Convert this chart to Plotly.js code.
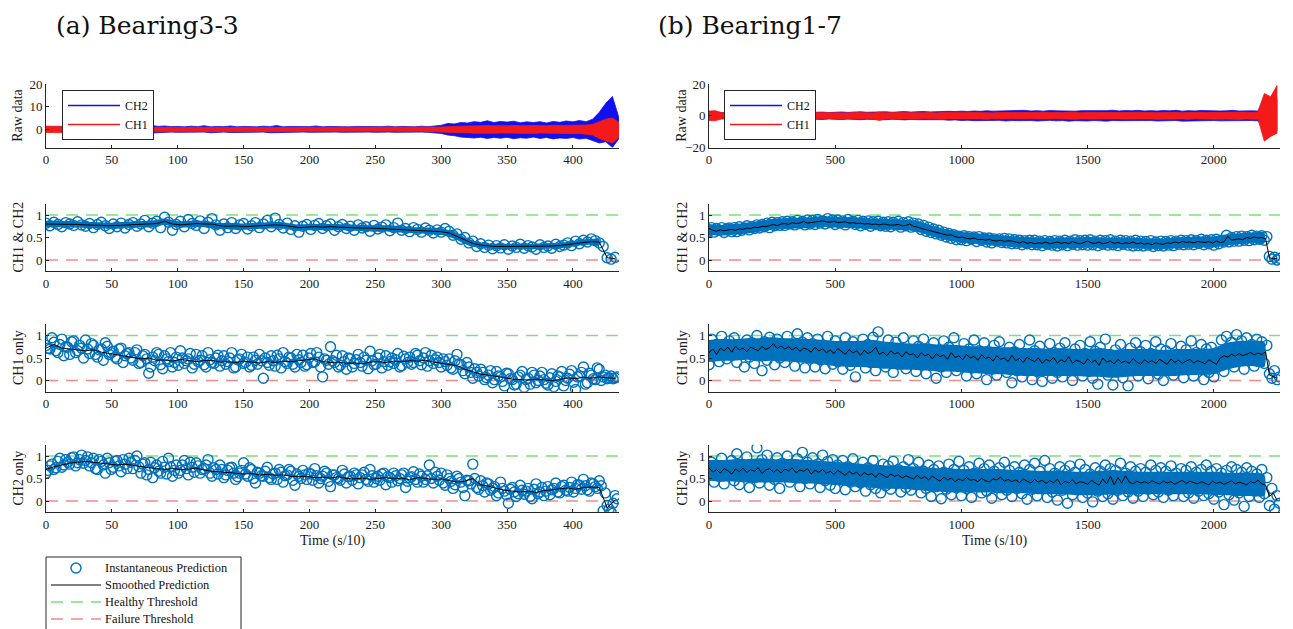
<!DOCTYPE html>
<html>
<head>
<meta charset="utf-8">
<script src="https://cdn.plot.ly/plotly-3.0.1.min.js"></script>
<style>
  html, body { margin: 0; padding: 0; background: #ffffff; overflow: hidden; }
  #chart { width: 1293px; height: 629px; }
</style>
</head>
<body>
<div id="chart"></div>
<script>
// ---------------- Bearing3-3 (time in s/10) ----------------
// sampling steps of each stored series
const b33RawStep = 5, b33InstStep = 3, b33SmoothStep = 6, b33CoreStep = 10;

// raw vibration envelopes
const b33Ch2Upper = [1.0,1.1,0.9,1.0,1.2,0.9,1.1,1.0,0.9,1.1, 1.0,1.2,0.9,1.1,1.0,1.2,1.8,1.3,1.5,1.2,
  1.3,1.1,1.4,1.2,1.6,1.1,1.3,1.2,1.5,1.1, 1.3,1.2,1.1,1.4,1.2,1.7,1.1,1.3,1.2,1.4,
  1.2,1.5,1.1,1.3,1.2,1.4,1.1,1.3,1.2,1.1, 1.3,1.2,1.4,1.1,1.3,1.2,1.1,1.4,1.2,1.5,
  1.8,2.6,2.4,3.0,2.8,3.4,3.1,3.8,3.0,3.5, 3.2,3.6,2.9,3.3,3.0,3.4,2.8,3.5,3.1,3.7,
  3.3,3.9,3.4,4.5,7.5,11.5,14.5,5.0];
const b33Ch2Lower = [-1.0,-1.1,-0.9,-1.1,-1.0,-1.2,-1.0,-0.9,-1.1,-1.0, -1.1,-1.0,-1.2,-1.1,-1.3,-1.2,-1.6,-1.4,-1.3,-1.2,
  -1.3,-1.2,-1.4,-1.3,-1.2,-1.5,-1.3,-1.2,-1.4,-1.3, -1.2,-1.4,-1.3,-1.2,-1.5,-1.3,-1.2,-1.4,-1.3,-1.2,
  -1.3,-1.2,-1.4,-1.3,-1.2,-1.3,-1.4,-1.2,-1.3,-1.2, -1.3,-1.4,-1.2,-1.3,-1.2,-1.4,-1.3,-1.2,-1.3,-1.4,
  -1.8,-2.5,-2.8,-3.4,-3.6,-3.8,-3.5,-4.0,-3.6,-3.9, -3.5,-4.1,-3.7,-3.9,-3.4,-4.0,-3.6,-4.2,-3.8,-4.0,
  -3.6,-4.3,-3.9,-4.8,-6.0,-5.5,-8.0,-4.0];
const b33Ch1Upper = [1.4,1.3,1.5,1.4,1.3,1.5,1.4,1.3,1.4,1.5, 1.3,1.4,1.5,1.3,1.4,1.3,0.9,0.8,0.9,0.8,
  0.9,0.8,0.8,0.9,0.8,0.8,0.9,0.8,0.8,0.9, 0.8,0.9,0.8,0.8,0.9,0.8,0.8,0.9,0.8,0.8,
  0.9,0.8,0.8,0.9,0.8,0.8,0.9,0.8,0.8,0.9, 0.8,0.8,0.9,0.8,0.8,0.9,0.8,0.9,0.8,0.9,
  1.0,1.2,1.3,1.5,1.4,1.6,1.5,1.7,1.6,1.5, 1.6,1.7,1.5,1.6,1.7,1.5,1.6,1.8,1.6,1.7,
  1.8,1.7,1.9,2.2,3.5,4.5,5.0,3.0];
const b33Ch1Lower = [-1.4,-1.5,-1.3,-1.4,-1.5,-1.3,-1.4,-1.5,-1.3,-1.4, -1.5,-1.3,-1.4,-1.5,-1.3,-1.4,-1.0,-0.9,-0.8,-0.9,
  -0.8,-0.9,-0.8,-0.9,-0.8,-0.9,-0.8,-0.8,-0.9,-0.8, -0.9,-0.8,-0.8,-0.9,-0.8,-0.9,-0.8,-0.9,-0.8,-0.8,
  -0.8,-0.9,-0.8,-0.8,-0.9,-0.8,-0.9,-0.8,-0.8,-0.9, -0.8,-0.9,-0.8,-0.8,-0.9,-0.8,-0.9,-0.8,-0.9,-0.8,
  -1.1,-1.3,-1.4,-1.6,-1.5,-1.7,-1.6,-1.8,-1.7,-1.6, -1.7,-1.8,-1.6,-1.7,-1.8,-1.6,-1.7,-1.9,-1.7,-1.8,
  -1.9,-1.8,-2.0,-2.5,-4.0,-5.0,-6.0,-3.5];

// health index predictions, CH1 & CH2
const b33BothInst = [0.82,0.76,0.84,0.79,0.74,0.83,0.80,0.77,0.85,0.78,0.75,
  0.81,0.72,0.79,0.84,0.76,0.70,0.80,0.74,0.82,0.71,0.79,
  0.83,0.75,0.80,0.88,0.74,0.82,0.86,0.72,0.95,0.84,0.66,
  0.79,0.86,0.74,0.90,0.81,0.77,0.87,0.70,0.84,0.92,0.78,
  0.66,0.80,0.72,0.83,0.70,0.78,0.81,0.69,0.76,0.83,0.72,
  0.80,0.88,0.74,0.93,0.79,0.71,0.82,0.68,0.76,0.62,0.75,
  0.79,0.68,0.77,0.81,0.70,0.76,0.80,0.66,0.74,0.79,0.70,
  0.75,0.66,0.78,0.71,0.74,0.64,0.77,0.69,0.73,0.78,0.65,
  0.72,0.82,0.66,0.70,0.63,0.72,0.68,0.62,0.71,0.66,0.60,
  0.67,0.62,0.70,0.64,0.55,0.58,0.46,0.50,0.38,0.42,0.30,
  0.36,0.28,0.33,0.25,0.32,0.27,0.34,0.24,0.31,0.28,0.35,
  0.26,0.32,0.29,0.24,0.34,0.28,0.31,0.26,0.35,0.30,0.33,
  0.38,0.32,0.42,0.36,0.44,0.40,0.47,0.43,0.38,0.30,0.05,
  0.02,0.06];
const b33BothSmooth = [0.80,0.80,0.80,0.79,0.79,0.78,0.78,0.77,0.76,0.77,0.78,0.78,0.79,0.80,0.81,0.86,0.80,0.78,0.80,0.81,
  0.80,0.80,0.76,0.75,0.76,0.74,0.75,0.76,0.77,0.78,0.77,0.74,0.72,0.73,0.74,0.73,0.74,0.73,0.72,0.72,
  0.71,0.71,0.70,0.70,0.69,0.68,0.67,0.66,0.65,0.64,0.63,0.60,0.52,0.44,0.37,0.33,0.31,0.30,0.30,0.30,
  0.30,0.30,0.30,0.31,0.31,0.32,0.34,0.37,0.39,0.41,0.40,0.05,0.03];
// where the prediction circles overlap into a solid cloud
const b33BothCoreUpper = [0.87,0.87,0.86,0.85,0.84,0.83,0.85,0.86,0.87,0.92,0.86,0.87,0.87,0.83,0.82,0.81,0.83,0.84,0.84,0.79,
  0.80,0.80,0.80,0.79,0.78,0.77,0.77,0.75,0.73,0.72,0.70,0.63,0.48,0.39,0.36,0.36,0.36,0.36,0.37,0.38,0.42,0.46,0.46];
const b33BothCoreLower = [0.73,0.73,0.72,0.71,0.70,0.69,0.71,0.72,0.73,0.78,0.72,0.73,0.73,0.69,0.68,0.67,0.69,0.70,0.70,0.65,
  0.66,0.66,0.66,0.65,0.64,0.63,0.63,0.61,0.59,0.58,0.56,0.47,0.33,0.27,0.24,0.24,0.24,0.24,0.25,0.26,0.30,0.34,0.34];

// CH1 only (two interleaved sample sets, the second offset by half a step)
const b33Ch1Inst = [0.78,0.70,0.85,0.62,0.92,0.75,0.58,0.88,0.66,0.72,0.90,
  0.60,0.78,0.52,0.70,0.84,0.58,0.65,0.48,0.72,0.55,0.62,
  0.45,0.68,0.40,0.58,0.16,0.52,0.62,0.35,0.55,0.42,0.30,
  0.52,0.66,0.38,0.48,0.28,0.58,0.45,0.35,0.62,0.40,0.50,
  0.32,0.55,0.42,0.62,0.30,0.48,0.38,0.52,0.34,0.45,0.58,
  0.05,0.40,0.55,0.32,0.48,0.62,0.38,0.50,0.30,0.46,0.56,
  0.35,0.60,0.42,0.52,0.08,0.45,0.75,0.40,0.30,0.55,0.25,
  0.48,0.38,0.58,0.32,0.45,0.65,0.35,0.50,0.28,0.55,0.42,
  0.38,0.60,0.33,0.48,0.52,0.40,0.56,0.35,0.62,0.44,0.38,
  0.52,0.30,0.42,0.48,0.25,0.58,0.35,0.15,0.30,0.05,0.18,
  0.25,0.02,0.12,-0.05,0.20,0.08,-0.12,0.15,0.02,-0.08,0.12,
  -0.15,0.05,0.18,-0.05,0.10,0.02,-0.10,0.15,-0.02,0.08,-0.12,
  0.05,0.22,-0.20,0.10,0.30,-0.05,0.12,0.02,0.25,0.08,0.04,
  0.10,0.06];
const b33Ch1InstMid = [0.72,0.95,0.66,0.80,0.55,0.74,0.86,0.62,0.78,0.50,0.70,
  0.82,0.58,0.68,0.45,0.76,0.62,0.52,0.70,0.40,0.60,0.50,
  0.62,0.38,0.55,0.48,0.30,0.44,0.58,0.26,0.48,0.62,0.40,
  0.34,0.50,0.44,0.60,0.36,0.42,0.55,0.30,0.46,0.38,0.56,
  0.44,0.36,0.50,0.28,0.46,0.58,0.40,0.30,0.52,0.36,0.44,
  0.50,0.34,0.44,0.56,0.28,0.42,0.52,0.36,0.58,0.40,0.32,
  0.50,0.40,0.62,0.30,0.48,0.36,0.44,0.56,0.34,0.42,0.50,
  0.30,0.46,0.40,0.52,0.26,0.44,0.36,0.58,0.42,0.34,0.50,
  0.46,0.30,0.54,0.40,0.36,0.60,0.44,0.50,0.32,0.56,0.46,
  0.40,0.48,0.34,0.28,0.44,0.36,0.22,0.40,0.18,0.26,0.10,
  0.18,0.06,0.22,0.02,0.10,-0.02,0.16,0.04,-0.10,0.08,0.20,
  0.02,-0.08,0.12,0.00,0.18,-0.06,0.06,-0.14,0.10,0.20,0.00,
  0.14,-0.04,0.08,0.18,-0.08,0.16,0.04,0.28,0.00,0.12,0.06,
  0.04,0.08];
const b33Ch1Smooth = [0.72,0.80,0.72,0.70,0.69,0.66,0.68,0.63,0.60,0.57,0.55,0.52,0.48,0.50,0.45,0.46,0.43,0.47,0.44,0.42,
  0.44,0.45,0.41,0.42,0.40,0.43,0.41,0.39,0.42,0.40,0.43,0.42,0.44,0.46,0.48,0.42,0.40,0.41,0.38,0.39,
  0.37,0.41,0.42,0.40,0.43,0.42,0.44,0.43,0.45,0.41,0.38,0.36,0.33,0.25,0.20,0.14,0.12,0.09,0.06,0.03,
  0.02,0.01,0.03,0.02,0.00,0.02,0.06,0.04,0.07,0.05,0.08,0.06,0.05];

// CH2 only
const b33Ch2Inst = [0.62,0.78,0.70,0.88,0.75,0.92,0.82,0.98,0.85,1.02,0.90,
  0.78,0.95,0.70,0.88,0.62,0.85,0.75,0.90,0.65,0.82,0.95,
  0.72,1.00,0.62,0.85,0.70,0.52,0.80,0.62,0.75,0.95,0.55,
  0.80,0.68,0.90,0.58,0.75,0.85,0.62,0.72,0.92,0.55,0.70,
  0.80,0.52,0.68,0.75,0.48,0.62,0.85,0.55,0.70,0.40,0.62,
  0.55,0.75,0.48,0.62,0.70,0.42,0.58,0.66,0.35,0.55,0.68,
  0.48,0.60,0.72,0.40,0.55,0.62,0.32,0.58,0.50,0.68,0.40,
  0.55,0.62,0.38,0.58,0.48,0.70,0.42,0.55,0.60,0.36,0.52,
  0.62,0.45,0.58,0.30,0.52,0.65,0.42,0.55,0.48,0.80,0.40,
  0.55,0.62,0.35,0.50,0.28,0.55,0.42,0.12,0.45,0.82,0.30,
  0.45,0.20,0.38,0.28,0.12,0.42,0.22,-0.05,0.30,0.10,0.35,
  0.15,0.28,0.05,0.38,0.20,0.12,0.32,0.25,0.40,0.18,0.35,
  0.22,0.42,0.28,0.35,0.48,0.25,0.40,0.32,0.45,-0.22,-0.10,
  -0.25,0.12];
const b33Ch2InstMid = [0.68,0.82,0.74,0.95,0.80,0.86,0.96,0.78,0.92,0.84,0.98,
  0.85,0.72,0.92,0.80,0.95,0.70,0.88,0.78,0.92,0.72,0.86,
  0.90,0.76,0.82,0.58,0.86,0.74,0.66,0.88,0.60,0.76,0.68,
  0.62,0.80,0.72,0.86,0.64,0.78,0.70,0.80,0.62,0.74,0.60,
  0.70,0.58,0.74,0.62,0.54,0.68,0.60,0.74,0.50,0.64,0.56,
  0.66,0.52,0.60,0.48,0.64,0.56,0.70,0.46,0.60,0.50,0.58,
  0.62,0.46,0.56,0.50,0.66,0.44,0.58,0.52,0.46,0.60,0.54,
  0.46,0.58,0.52,0.64,0.44,0.56,0.50,0.46,0.62,0.54,0.42,
  0.56,0.50,0.62,0.44,0.54,0.48,0.60,0.42,0.56,0.50,0.64,
  0.46,0.40,0.58,0.44,0.36,0.50,0.30,0.46,0.38,0.50,0.26,
  0.34,0.40,0.24,0.32,0.18,0.28,0.14,0.26,0.20,0.16,0.24,
  0.22,0.10,0.26,0.16,0.30,0.22,0.14,0.28,0.20,0.32,0.24,
  0.30,0.20,0.36,0.26,0.34,0.22,0.38,0.28,0.34,0.18,-0.18,
  -0.05,0.05];
const b33Ch2Smooth = [0.70,0.76,0.80,0.84,0.86,0.88,0.86,0.84,0.82,0.80,0.82,0.79,0.77,0.74,0.72,0.70,0.72,0.70,0.71,0.73,
  0.69,0.66,0.65,0.63,0.62,0.60,0.61,0.58,0.59,0.57,0.58,0.55,0.54,0.55,0.52,0.53,0.51,0.54,0.50,0.49,
  0.51,0.48,0.50,0.52,0.49,0.51,0.47,0.52,0.50,0.48,0.49,0.45,0.42,0.44,0.50,0.36,0.33,0.28,0.24,0.22,
  0.20,0.22,0.19,0.23,0.25,0.27,0.29,0.26,0.30,0.31,0.30,-0.15,0.02];

// ---------------- Bearing1-7 (time in s/10) ----------------
const b17RawStep = 25, b17InstStep = 10, b17SmoothStep = 15, b17CoreStep = 50;

const b17Ch2Upper = [1.5,1.8,2.0,1.9,2.1,1.8,2.0,2.2,1.9,2.1, 2.0,2.2,1.9,2.1,2.3,2.0,2.2,2.1,2.3,2.0,
  2.2,2.4,2.1,2.3,2.5,2.2,2.4,2.3,2.5,2.2, 2.4,2.6,2.3,2.5,2.7,2.4,2.6,2.5,2.8,2.6,
  2.9,2.7,3.0,2.8,3.1,2.9,3.0,2.8,3.2,2.9, 3.4,3.0,3.2,2.9,3.3,3.1,3.0,3.3,2.9,3.2,
  3.1,3.4,3.0,3.2,3.5,3.0,3.3,3.1,3.4,3.0, 3.2,3.0,3.3,3.1,3.4,2.9,3.2,3.0,3.3,3.1,
  3.2,3.0,3.1,3.4,3.0,3.2,3.1,3.0,12.5,11.0, 10.5];
const b17Ch2Lower = [-1.5,-1.8,-2.0,-1.9,-2.1,-1.8,-2.0,-2.2,-1.9,-2.1, -2.0,-2.2,-1.9,-2.1,-2.3,-2.0,-2.2,-2.1,-2.3,-2.0,
  -2.2,-2.4,-2.1,-2.3,-2.5,-2.2,-2.4,-2.3,-2.5,-2.2, -2.4,-2.6,-2.3,-2.5,-2.7,-2.4,-2.6,-2.5,-2.8,-2.6,
  -3.0,-2.8,-3.1,-2.9,-3.2,-3.0,-2.9,-3.3,-3.0,-3.1, -3.2,-3.0,-3.3,-3.1,-2.9,-3.2,-3.0,-3.4,-3.1,-3.0,
  -3.3,-3.0,-3.2,-3.4,-3.0,-3.1,-3.3,-3.0,-3.2,-3.1, -3.0,-3.3,-3.1,-3.2,-3.0,-3.4,-3.1,-3.0,-3.2,-3.1,
  -3.0,-3.2,-3.1,-3.0,-3.3,-3.1,-3.0,-3.2,-9.0,-10.0, -9.5];
const b17Ch1Upper = [3.0,3.2,2.0,1.9,2.0,1.8,2.1,1.9,2.0,1.8, 2.0,1.9,2.1,1.8,2.0,1.9,2.1,2.0,1.9,2.0,
  1.9,2.0,1.8,2.1,1.9,2.0,1.8,2.3,1.9,2.0, 1.9,2.0,1.8,2.0,1.9,2.1,1.8,2.0,1.9,2.0,
  1.9,2.0,2.1,1.9,2.0,1.8,2.1,1.9,2.0,2.1, 1.9,2.0,2.2,1.9,2.0,2.1,1.9,2.2,2.0,1.9,
  2.1,2.0,1.9,2.2,2.0,2.1,1.9,2.0,2.2,2.0, 2.1,1.9,2.0,2.2,2.0,1.9,2.1,2.0,2.2,2.0,
  2.1,2.0,2.2,2.0,2.1,2.3,2.1,2.4,14.0,12.0, 19.0];
const b17Ch1Lower = [-3.0,-3.1,-2.0,-1.9,-2.1,-1.8,-2.0,-1.9,-2.1,-1.8, -2.0,-1.9,-2.1,-2.0,-1.9,-2.0,-2.1,-1.9,-2.0,-1.8,
  -2.0,-1.9,-2.1,-1.8,-2.0,-1.9,-2.1,-3.0,-2.0,-1.9, -2.0,-1.9,-2.1,-2.0,-1.8,-2.0,-1.9,-2.1,-2.0,-1.9,
  -2.0,-2.1,-1.9,-2.0,-2.2,-1.9,-2.0,-2.1,-1.9,-2.0, -2.1,-1.9,-2.0,-2.2,-2.0,-1.9,-2.1,-2.0,-2.2,-2.0,
  -1.9,-2.1,-2.0,-2.2,-1.9,-2.0,-2.1,-2.0,-1.9,-2.1, -2.0,-2.2,-1.9,-2.0,-2.1,-2.0,-2.2,-1.9,-2.0,-2.1,
  -2.0,-2.2,-2.1,-2.0,-2.3,-2.1,-2.0,-2.2,-16.0,-13.0, -11.0];

const b17BothInst = [0.64,0.72,0.62,0.70,0.66,0.72,0.61,0.69,0.71,0.63,
  0.72,0.63,0.74,0.66,0.71,0.76,0.67,0.74,0.70,0.78,
  0.71,0.79,0.74,0.82,0.72,0.84,0.76,0.83,0.77,0.85,
  0.77,0.86,0.80,0.85,0.78,0.88,0.81,0.86,0.78,0.89,
  0.80,0.88,0.79,0.90,0.82,0.87,0.80,0.92,0.83,0.89,
  0.79,0.89,0.82,0.87,0.78,0.90,0.83,0.86,0.79,0.88,
  0.76,0.86,0.79,0.87,0.75,0.85,0.79,0.86,0.76,0.84,
  0.75,0.85,0.74,0.84,0.78,0.86,0.73,0.83,0.76,0.85,
  0.73,0.82,0.75,0.80,0.68,0.77,0.64,0.73,0.61,0.69,
  0.58,0.66,0.55,0.62,0.51,0.59,0.48,0.56,0.45,0.53,
  0.45,0.54,0.43,0.52,0.46,0.51,0.41,0.52,0.44,0.49,
  0.40,0.49,0.38,0.47,0.42,0.47,0.39,0.48,0.38,0.47,
  0.36,0.45,0.37,0.44,0.34,0.43,0.36,0.44,0.34,0.44,
  0.34,0.42,0.32,0.43,0.35,0.41,0.33,0.43,0.31,0.42,
  0.34,0.44,0.32,0.42,0.35,0.45,0.33,0.43,0.34,0.44,
  0.33,0.45,0.34,0.42,0.32,0.44,0.35,0.43,0.33,0.45,
  0.34,0.42,0.32,0.44,0.35,0.43,0.33,0.42,0.31,0.44,
  0.32,0.42,0.31,0.41,0.33,0.43,0.30,0.40,0.32,0.42,
  0.31,0.41,0.33,0.43,0.32,0.42,0.35,0.44,0.34,0.43,
  0.35,0.45,0.34,0.43,0.37,0.46,0.34,0.44,0.36,0.45,
  0.33,0.46,0.36,0.44,0.40,0.55,0.40,0.50,0.42,0.52,
  0.42,0.53,0.44,0.52,0.43,0.55,0.45,0.53,0.46,0.54,
  0.44,0.52,0.08,0.02,0.06,0.00,0.04];
const b17BothSmooth = [0.70,0.66,0.64,0.67,0.65,0.66,0.68,0.66,0.69,0.68,
  0.71,0.70,0.73,0.72,0.75,0.74,0.77,0.79,0.76,0.80,
  0.81,0.79,0.83,0.81,0.82,0.86,0.82,0.83,0.84,0.85,
  0.87,0.85,0.84,0.86,0.83,0.84,0.85,0.82,0.83,0.81,
  0.82,0.80,0.81,0.79,0.80,0.78,0.80,0.79,0.77,0.78,
  0.79,0.76,0.77,0.80,0.75,0.73,0.70,0.68,0.66,0.64,
  0.62,0.60,0.57,0.55,0.56,0.52,0.50,0.51,0.48,0.47,
  0.49,0.45,0.46,0.44,0.46,0.43,0.42,0.44,0.41,0.43,
  0.42,0.40,0.38,0.41,0.37,0.39,0.36,0.38,0.37,0.40,
  0.36,0.38,0.40,0.37,0.39,0.36,0.41,0.38,0.36,0.39,
  0.42,0.38,0.37,0.40,0.36,0.38,0.41,0.37,0.39,0.36,
  0.38,0.37,0.40,0.36,0.38,0.35,0.37,0.34,0.38,0.36,
  0.35,0.38,0.37,0.40,0.38,0.41,0.39,0.40,0.38,0.41,
  0.40,0.39,0.41,0.38,0.42,0.39,0.40,0.53,0.44,0.46,
  0.47,0.45,0.50,0.48,0.51,0.49,0.50,0.47,0.05,0.03,
  0.03];
const b17BothCoreUpper = [0.80,0.78,0.80,0.83,0.87,0.91,0.93,0.94,0.95,0.98,0.96,0.95,0.94,0.92,0.91,0.90,0.89,0.83,0.74,0.67,
  0.62,0.60,0.57,0.55,0.53,0.51,0.50,0.49,0.50,0.50,0.51,0.50,0.50,0.50,0.49,0.48,0.48,0.50,0.51,0.52,0.52,0.57,0.59,0.61,0.61];
const b17BothCoreLower = [0.56,0.54,0.56,0.59,0.63,0.67,0.69,0.70,0.71,0.74,0.72,0.71,0.70,0.68,0.67,0.66,0.65,0.59,0.50,0.43,
  0.38,0.36,0.33,0.31,0.29,0.27,0.26,0.25,0.26,0.26,0.27,0.26,0.26,0.26,0.25,0.24,0.24,0.26,0.27,0.28,0.28,0.33,0.35,0.37,0.37];

const b17Ch1Inst = [0.35,0.92,0.55,0.80,0.42,0.98,0.62,0.48,0.88,0.56,
  0.95,0.40,0.78,0.60,0.30,0.90,0.52,0.84,0.38,1.00,
  0.58,0.22,0.86,0.45,0.96,0.62,0.35,0.92,0.50,0.80,
  0.40,0.98,0.58,0.75,0.32,1.04,0.55,0.85,0.28,0.95,
  0.50,0.82,0.30,0.92,0.46,0.78,0.26,0.98,0.55,0.36,
  0.88,0.42,0.76,0.25,0.95,0.50,0.34,0.86,0.08,0.72,
  0.45,0.92,0.28,0.80,0.40,0.96,0.22,1.08,0.48,0.74,
  0.30,0.90,0.45,0.18,0.85,0.38,0.72,0.95,0.26,0.66,
  0.42,0.88,0.20,0.76,0.35,0.92,0.15,0.70,0.40,0.84,
  0.05,0.62,0.30,0.88,0.18,0.74,0.42,0.95,0.22,0.60,
  0.35,0.82,0.10,0.70,0.28,0.90,0.15,0.66,0.38,0.84,
  0.02,0.60,0.25,0.78,0.12,0.86,0.30,0.55,0.18,0.74,
  -0.05,0.64,0.22,0.80,0.08,0.58,0.35,0.90,0.02,0.66,
  0.20,0.76,-0.02,0.54,0.28,0.82,0.05,0.62,0.18,0.72,
  0.08,0.84,0.25,0.56,0.00,0.70,0.32,0.78,0.10,0.60,
  0.22,0.86,0.05,0.65,-0.08,0.74,0.28,0.92,0.12,0.58,
  -0.10,0.68,0.20,0.80,0.06,0.55,-0.12,0.72,0.25,0.84,
  0.10,0.64,0.30,0.78,0.04,0.60,0.22,0.86,0.14,0.70,
  0.00,0.66,0.28,0.82,0.12,0.58,0.26,0.76,0.06,0.68,
  0.24,0.88,0.10,0.62,0.30,0.80,0.02,0.70,0.18,0.74,
  0.08,0.62,0.35,0.90,0.20,0.98,0.40,0.85,0.30,1.02,
  0.45,0.88,0.25,0.95,0.50,0.80,0.32,0.92,0.42,0.86,
  0.38,0.78,0.15,0.05,0.22,0.02,0.08];
const b17Ch1Smooth = [0.62,0.70,0.58,0.72,0.66,0.74,0.63,0.76,0.68,0.72,
  0.64,0.74,0.70,0.66,0.76,0.69,0.73,0.82,0.71,0.77,
  0.70,0.75,0.68,0.74,0.65,0.72,0.69,0.63,0.74,0.66,
  0.70,0.62,0.68,0.60,0.71,0.64,0.58,0.69,0.61,0.66,
  0.56,0.67,0.60,0.64,0.74,0.58,0.63,0.55,0.66,0.59,
  0.62,0.52,0.64,0.57,0.60,0.50,0.62,0.55,0.58,0.48,
  0.60,0.53,0.57,0.47,0.62,0.51,0.55,0.46,0.58,0.50,
  0.54,0.45,0.57,0.49,0.52,0.43,0.55,0.47,0.50,0.42,
  0.56,0.44,0.49,0.40,0.52,0.46,0.42,0.50,0.38,0.47,
  0.43,0.51,0.39,0.46,0.41,0.53,0.38,0.45,0.42,0.36,
  0.48,0.40,0.45,0.34,0.50,0.41,0.44,0.37,0.47,0.40,
  0.43,0.38,0.49,0.41,0.36,0.46,0.40,0.44,0.38,0.47,
  0.42,0.36,0.48,0.40,0.45,0.38,0.43,0.47,0.39,0.44,
  0.41,0.37,0.46,0.40,0.36,0.50,0.55,0.52,0.58,0.54,
  0.60,0.55,0.59,0.62,0.57,0.61,0.58,0.64,0.12,0.08,
  0.05];
const b17Ch1CoreUpper = [0.90,0.92,0.92,0.94,0.94,0.96,0.94,0.94,0.92,0.90,0.88,0.88,0.88,0.90,0.86,0.84,0.82,0.82,0.80,0.80,
  0.78,0.76,0.76,0.74,0.74,0.72,0.72,0.70,0.72,0.70,0.70,0.72,0.68,0.70,0.70,0.70,0.68,0.70,0.70,0.70,0.72,0.84,0.88,0.88,0.86];
const b17Ch1CoreLower = [0.41,0.44,0.44,0.46,0.42,0.44,0.42,0.40,0.38,0.36,0.32,0.30,0.30,0.28,0.26,0.24,0.24,0.22,0.20,0.20,
  0.18,0.16,0.14,0.14,0.12,0.10,0.10,0.10,0.10,0.10,0.08,0.08,0.06,0.08,0.10,0.10,0.10,0.10,0.12,0.12,0.14,0.24,0.30,0.32,0.30];

const b17Ch2Inst = [0.58,0.86,0.42,0.78,0.55,0.95,0.38,0.72,0.62,0.90,
  0.45,1.05,0.36,0.82,0.58,0.98,0.30,0.76,0.52,1.18,
  0.40,0.92,0.60,1.02,0.35,0.80,0.48,0.96,0.28,0.84,
  0.55,1.00,0.42,0.78,0.62,0.94,0.32,1.08,0.50,0.86,
  0.38,0.96,0.60,0.82,0.30,1.02,0.45,0.88,0.35,0.92,
  0.28,0.80,0.48,0.90,0.25,0.76,0.42,0.94,0.32,0.70,
  0.40,0.86,0.22,0.74,0.36,0.90,0.28,0.68,0.18,0.82,
  0.34,0.78,0.26,0.88,0.40,0.70,0.20,0.76,0.30,0.92,
  0.24,0.72,0.36,0.86,0.18,0.66,0.28,0.80,0.10,0.70,
  0.32,0.78,0.05,0.64,0.26,0.82,0.14,0.70,0.30,0.88,
  0.12,0.68,0.28,0.76,0.08,0.62,0.34,0.84,0.18,0.72,
  0.22,0.80,0.06,0.66,0.30,0.74,0.14,0.86,0.24,0.68,
  0.10,0.76,0.28,0.64,0.16,0.80,0.04,0.70,0.26,0.84,
  0.12,0.66,0.30,0.90,0.08,0.72,0.20,0.62,0.02,0.76,
  0.24,0.68,-0.05,0.78,0.14,0.64,0.26,0.82,0.08,0.70,
  0.18,0.60,-0.02,0.74,0.22,0.66,0.10,0.80,0.16,0.72,
  0.04,0.68,0.24,0.84,0.12,0.62,0.20,0.76,0.06,0.66,
  0.22,0.72,0.10,0.64,0.26,0.80,0.14,0.68,0.20,0.74,
  0.08,0.66,0.24,0.78,0.12,0.62,0.28,0.72,0.10,0.68,
  0.18,0.76,0.06,0.64,0.22,0.70,0.12,0.80,0.16,0.66,
  0.04,0.72,0.20,0.62,-0.08,0.68,0.14,0.76,0.02,0.70,
  0.18,0.64,-0.12,0.74,0.10,0.66,0.22,0.60,0.08,0.70,
  0.16,0.52,-0.10,0.28,-0.18,0.12,-0.05];
const b17Ch2Smooth = [0.74,0.64,0.70,0.62,0.72,0.67,0.60,0.71,0.65,0.73,
  0.63,0.70,0.66,0.74,0.61,0.69,0.72,0.64,0.70,0.62,
  0.71,0.67,0.73,0.63,0.69,0.66,0.72,0.60,0.68,0.64,
  0.70,0.62,0.66,0.59,0.68,0.63,0.57,0.66,0.60,0.64,
  0.55,0.63,0.58,0.61,0.53,0.62,0.56,0.52,0.60,0.55,
  0.58,0.51,0.56,0.53,0.49,0.57,0.50,0.54,0.47,0.55,
  0.50,0.44,0.53,0.47,0.51,0.43,0.49,0.45,0.52,0.46,
  0.48,0.43,0.50,0.45,0.42,0.49,0.47,0.53,0.44,0.48,
  0.43,0.47,0.41,0.49,0.44,0.40,0.48,0.42,0.46,0.39,
  0.45,0.41,0.48,0.36,0.44,0.40,0.47,0.38,0.43,0.41,
  0.37,0.46,0.40,0.35,0.49,0.38,0.55,0.36,0.52,0.40,
  0.56,0.42,0.38,0.44,0.40,0.43,0.39,0.45,0.41,0.38,
  0.44,0.40,0.43,0.37,0.42,0.46,0.39,0.44,0.41,0.38,
  0.43,0.40,0.36,0.44,0.39,0.42,0.37,0.41,0.45,0.38,
  0.42,0.39,0.36,0.43,0.40,0.46,0.38,0.35,0.10,0.18,
  0.02];
const b17Ch2CoreUpper = [0.91,0.91,0.93,0.93,0.95,0.93,0.93,0.93,0.91,0.89,0.87,0.85,0.83,0.81,0.79,0.79,0.77,0.75,0.73,0.73,
  0.71,0.71,0.71,0.71,0.69,0.69,0.67,0.67,0.67,0.65,0.65,0.67,0.69,0.67,0.65,0.65,0.65,0.65,0.65,0.65,0.65,0.63,0.63,0.63,0.58];
const b17Ch2CoreLower = [0.45,0.43,0.43,0.41,0.41,0.41,0.41,0.39,0.39,0.37,0.35,0.33,0.31,0.29,0.27,0.27,0.25,0.23,0.21,0.19,
  0.19,0.19,0.19,0.17,0.17,0.17,0.15,0.15,0.15,0.13,0.13,0.13,0.15,0.15,0.15,0.15,0.15,0.15,0.15,0.15,0.13,0.13,0.11,0.11,0.11];

// threshold levels of the health index
const healthyThreshold = 1;
const failureThreshold = 0;

// labels
const rowLabels = ['Raw data', 'CH1 & CH2', 'CH1 only', 'CH2 only'];
const panelTitles = ['(a) Bearing3-3', '(b) Bearing1-7'];
const timeLabel = 'Time (s/10)';
const keyLabels = ['Instantaneous Prediction', 'Smoothed Prediction', 'Healthy Threshold', 'Failure Threshold'];

// ---------------- drawing ----------------
const W = 1293, H = 629;
const px = v => v / W;
const py = v => 1 - v / H;

const SERIF = "'Liberation Serif', 'Times New Roman', serif";
const AX = '#262626';
const BLUE_MK = '#0072BD';
const GREEN_TH = '#7ddf7d';
const RED_TH = '#f08c8c';
const DASH = '12px,8px';

const grid = (n, step, offset = 0) => Array.from({ length: n }, (_, i) => offset + i * step);

function band(upper, lower, step) {
  const x = grid(upper.length, step);
  return { x: x.concat(x.slice().reverse()), y: upper.concat(lower.slice().reverse()) };
}

const columns = [
  {
    xmax: 435, dtick: 50, xDom: [px(46), px(619)],
    rawRange: [-8, 20], rawTicks: [0, 10, 20],
    rawStep: b33RawStep, instStep: b33InstStep, smoothStep: b33SmoothStep, coreStep: b33CoreStep,
    ch2: [b33Ch2Upper, b33Ch2Lower], ch1: [b33Ch1Upper, b33Ch1Lower],
    rows: [
      { inst: [b33BothInst], smooth: b33BothSmooth, core: [b33BothCoreUpper, b33BothCoreLower] },
      { inst: [b33Ch1Inst, b33Ch1InstMid], smooth: b33Ch1Smooth, core: null },
      { inst: [b33Ch2Inst, b33Ch2InstMid], smooth: b33Ch2Smooth, core: null }
    ],
    legend: 'legend', labelX: 18, titleX: 54, timeX: 333
  },
  {
    xmax: 2262, dtick: 500, xDom: [px(709), px(1280)],
    rawRange: [-20, 20], rawTicks: [-20, 0, 20],
    rawStep: b17RawStep, instStep: b17InstStep, smoothStep: b17SmoothStep, coreStep: b17CoreStep,
    ch2: [b17Ch2Upper, b17Ch2Lower], ch1: [b17Ch1Upper, b17Ch1Lower],
    rows: [
      { inst: [b17BothInst], smooth: b17BothSmooth, core: [b17BothCoreUpper, b17BothCoreLower] },
      { inst: [b17Ch1Inst], smooth: b17Ch1Smooth, core: [b17Ch1CoreUpper, b17Ch1CoreLower] },
      { inst: [b17Ch2Inst], smooth: b17Ch2Smooth, core: [b17Ch2CoreUpper, b17Ch2CoreLower] }
    ],
    legend: 'legend2', labelX: 682, titleX: 656, timeX: 995
  }
];

// vertical extents of the four rows, in pixels (top, bottom)
const rowPix = [[84, 147.5], [203.75, 271.25], [324.25, 391.75], [444.75, 512.25]];

const traces = [];
const layout = {
  width: W, height: H, autosize: false,
  margin: { l: 0, r: 0, t: 0, b: 0, autoexpand: false },
  paper_bgcolor: '#ffffff', plot_bgcolor: '#ffffff',
  font: { family: SERIF, size: 13, color: AX },
  annotations: [], shapes: [],
  showlegend: true
};

function axisBase() {
  return {
    showgrid: false, zeroline: false, showline: true, linecolor: AX, linewidth: 1,
    mirror: false, ticks: 'inside', ticklen: 3, tickwidth: 1, tickcolor: AX,
    tickfont: { family: SERIF, size: 13, color: '#1a1a1a' }, fixedrange: true
  };
}

columns.forEach((col, c) => {
  for (let r = 0; r < 4; r++) {
    const n = c * 4 + r + 1;
    const xk = n === 1 ? 'xaxis' : 'xaxis' + n;
    const yk = n === 1 ? 'yaxis' : 'yaxis' + n;
    const xr = n === 1 ? 'x' : 'x' + n;
    const yr = n === 1 ? 'y' : 'y' + n;

    layout[xk] = Object.assign(axisBase(), {
      domain: col.xDom, range: [0, col.xmax], tick0: 0, dtick: col.dtick, anchor: yr
    });
    layout[yk] = Object.assign(axisBase(), {
      domain: [py(rowPix[r][1]), py(rowPix[r][0])], anchor: xr
    });

    if (r === 0) {
      layout[yk].range = col.rawRange;
      layout[yk].tickvals = col.rawTicks;
      const ch2 = band(col.ch2[0], col.ch2[1], col.rawStep);
      const ch1 = band(col.ch1[0], col.ch1[1], col.rawStep);
      traces.push({ type: 'scatter', mode: 'lines', x: ch2.x, y: ch2.y, xaxis: xr, yaxis: yr,
        fill: 'toself', fillcolor: '#1010f0', line: { color: '#1010f0', width: 0.8 }, showlegend: false, hoverinfo: 'skip' });
      traces.push({ type: 'scatter', mode: 'lines', x: ch1.x, y: ch1.y, xaxis: xr, yaxis: yr,
        fill: 'toself', fillcolor: '#f51a1a', line: { color: '#f51a1a', width: 0.8 }, showlegend: false, hoverinfo: 'skip' });
      // legend keys for the two channels
      traces.push({ type: 'scatter', mode: 'lines', x: [null], y: [null], xaxis: xr, yaxis: yr,
        name: 'CH2', line: { color: '#1010f0', width: 1.5 }, legend: col.legend, legendrank: 1 });
      traces.push({ type: 'scatter', mode: 'lines', x: [null], y: [null], xaxis: xr, yaxis: yr,
        name: 'CH1', line: { color: '#f51a1a', width: 1.5 }, legend: col.legend, legendrank: 2 });
    } else {
      layout[yk].range = [-0.25, 1.25];
      layout[yk].tickvals = [0, 0.5, 1];
      layout[yk].ticktext = ['0', '0.5', '1'];
      const row = col.rows[r - 1];
      traces.push({ type: 'scatter', mode: 'lines', x: [0, col.xmax], y: [healthyThreshold, healthyThreshold],
        xaxis: xr, yaxis: yr, name: keyLabels[2], line: { color: GREEN_TH, width: 1.3, dash: DASH },
        showlegend: false, hoverinfo: 'skip' });
      traces.push({ type: 'scatter', mode: 'lines', x: [0, col.xmax], y: [failureThreshold, failureThreshold],
        xaxis: xr, yaxis: yr, name: keyLabels[3], line: { color: RED_TH, width: 1.3, dash: DASH },
        showlegend: false, hoverinfo: 'skip' });
      if (row.core) {
        // dense body of the prediction cloud
        const core = band(row.core[0], row.core[1], col.coreStep);
        traces.push({ type: 'scatter', mode: 'lines', x: core.x, y: core.y, xaxis: xr, yaxis: yr,
          fill: 'toself', fillcolor: BLUE_MK, line: { color: BLUE_MK, width: 0, shape: 'spline', smoothing: 0.6 },
          showlegend: false, hoverinfo: 'skip' });
      }
      row.inst.forEach((vals, k) => {
        traces.push({ type: 'scatter', mode: 'markers', x: grid(vals.length, col.instStep, k * col.instStep / 2), y: vals,
          xaxis: xr, yaxis: yr, name: keyLabels[0],
          marker: { symbol: 'circle-open', size: 10, color: BLUE_MK, line: { color: BLUE_MK, width: 1.4 } },
          showlegend: false });
      });
      traces.push({ type: 'scatter', mode: 'lines', x: grid(row.smooth.length, col.smoothStep), y: row.smooth,
        xaxis: xr, yaxis: yr, name: keyLabels[1], line: { color: '#000000', width: 1 }, showlegend: false });
    }

    // row label
    layout.annotations.push({
      xref: 'paper', yref: 'paper', x: px(col.labelX), y: py((rowPix[r][0] + rowPix[r][1]) / 2),
      text: rowLabels[r], textangle: -90, showarrow: false,
      font: { family: SERIF, size: 14, color: '#1a1a1a' }, xanchor: 'center', yanchor: 'middle'
    });
  }

  // column title and time axis label
  layout.annotations.push({
    xref: 'paper', yref: 'paper', x: px(col.titleX), y: py(26), text: panelTitles[c],
    showarrow: false, xanchor: 'left', yanchor: 'middle',
    font: { family: "'DejaVu Serif', serif", size: 25, color: '#111111' }
  });
  layout.annotations.push({
    xref: 'paper', yref: 'paper', x: px(col.timeX), y: py(541), text: timeLabel,
    showarrow: false, xanchor: 'center', yanchor: 'middle',
    font: { family: SERIF, size: 14, color: '#1a1a1a' }
  });
});

// channel legends of the raw-data panels
const legendBox = { bgcolor: '#ffffff', bordercolor: AX, borderwidth: 1,
  font: { family: SERIF, size: 12, color: '#111111' }, xanchor: 'left', yanchor: 'top',
  tracegroupgap: 0, itemclick: false, itemdoubleclick: false, itemwidth: 52 };
layout.legend = Object.assign({}, legendBox, { x: px(62), y: py(90) });
layout.legend2 = Object.assign({}, legendBox, { x: px(724), y: py(90) });

// shared key for the prediction panels (box runs past the lower edge of the figure)
const keyRows = [568, 585, 602, 619];
const P = (x0, y0, x1, y1) => ({ xref: 'paper', yref: 'paper', x0: px(x0), y0: py(y0), x1: px(x1), y1: py(y1) });
layout.shapes.push(Object.assign({ type: 'rect', line: { color: AX, width: 1 }, fillcolor: '#ffffff', layer: 'above' },
  P(46, 640, 241, 557)));
layout.shapes.push(Object.assign({ type: 'circle', line: { color: BLUE_MK, width: 1.4 }, layer: 'above' },
  P(71, keyRows[0] + 5, 81, keyRows[0] - 5)));
layout.shapes.push(Object.assign({ type: 'line', line: { color: '#000000', width: 1 }, layer: 'above' },
  P(51, keyRows[1], 101, keyRows[1])));
layout.shapes.push(Object.assign({ type: 'line', line: { color: GREEN_TH, width: 1.3, dash: DASH }, layer: 'above' },
  P(51, keyRows[2], 101, keyRows[2])));
layout.shapes.push(Object.assign({ type: 'line', line: { color: RED_TH, width: 1.3, dash: DASH }, layer: 'above' },
  P(51, keyRows[3], 101, keyRows[3])));
keyLabels.forEach((t, i) => {
  layout.annotations.push({
    xref: 'paper', yref: 'paper', x: px(103), y: py(keyRows[i]), text: t, showarrow: false,
    xanchor: 'left', yanchor: 'middle', font: { family: SERIF, size: 12.4, color: '#111111' }
  });
});

Plotly.newPlot('chart', traces, layout, { displayModeBar: false, staticPlot: true });
</script>
</body>
</html>
